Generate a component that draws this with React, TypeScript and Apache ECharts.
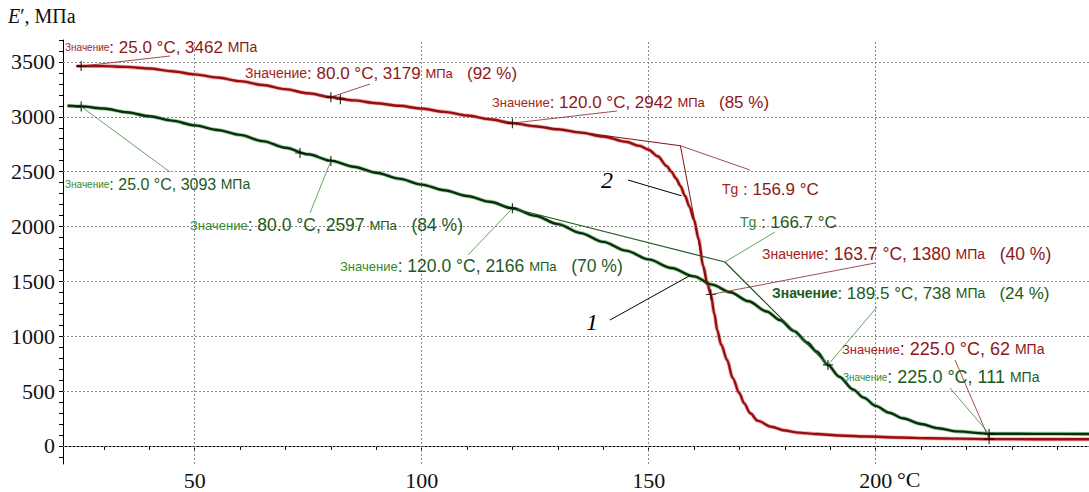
import React, { useEffect, useRef } from "react";
import * as echarts from "echarts";

// ---- Data ----
const redTemp = [24,30,35,40,45,50,55,60,65,70,75,80,85,90,95,100,105,110,115,120,125,130,135,140,145,148,150,152,154,155,156,157,158,159,160,161,162,163,163.7,164.5,165.1,166,167.3,168.5,170,171,172.4,174,177,180,183,187,192,198,205,212,218,225,235,247];
const redE = [3462,3462,3455,3440,3415,3387,3358,3325,3290,3252,3214,3179,3150,3124,3100,3075,3045,3012,2977,2942,2914,2886,2856,2820,2772,2735,2700,2640,2550,2500,2440,2370,2280,2180,2060,1890,1640,1470,1380,1200,1055,920,782,620,480,390,297,230,175,140,121,108,95,85,76,70,66,62,61,60];

const greenTemp = [22,25,30,35,40,45,50,55,60,65,70,75,80,85,90,95,100,105,110,115,120,125,130,135,140,145,150,155,160,164,168,172,176,179,182,185,187,189.5,192,195,197.4,200,203,206,210,213.8,218,225,235,247];
const greenE = [3100,3095,3075,3042,3005,2965,2922,2880,2835,2778,2718,2658,2600,2545,2490,2436,2382,2330,2278,2225,2166,2098,2022,1940,1860,1780,1700,1622,1545,1470,1400,1318,1225,1145,1048,940,860,738,630,515,440,365,302,252,200,161,132,111,110,109];

// annotated points: temperature, modulus, percent of initial
const redNoteT = [25, 80, 120, 163.7, 225];
const redNoteE = [3462, 3179, 2942, 1380, 62];
const redNotePct = [null, 92, 85, 40, null];
const greenNoteT = [25, 80, 120, 189.5, 225];
const greenNoteE = [3093, 2597, 2166, 738, 111];
const greenNotePct = [null, 84, 70, 24, null];

// extra cursor marks
const redExtraMark = [[82.1, 3160]];
const greenExtraMark = [[73.2, 2670]];

// Tg construction (tangent lines)
const redTangent = [[120, 2942], [157.0, 2736], [162.8, 1470]];
const greenTangent = [[120, 2166], [166.8, 1676], [189.5, 738]];
const redTg = 156.9;
const greenTg = 166.7;

// axis ticks / labels
const xLabels = [50, 100, 150, 200];
const xTicks = [30,40,50,60,70,80,90,100,110,120,130,140,150,160,170,180,190,200,210,220,230,240];
const yLabels = [0, 500, 1000, 1500, 2000, 2500, 3000, 3500];
const yTicks = [-100,0,100,200,300,400,500,600,700,800,900,1000,1100,1200,1300,1400,1500,1600,1700,1800,1900,2000,2100,2200,2300,2400,2500,2600,2700,2800,2900,3000,3100,3200,3300,3400,3500,3600,3700];

// ---- Layout (pixels) ----
// [textX, textY, leaderEndX, leaderEndY, smallSize, bigSize, unitSize]
const redNoteLayout = [
  [65, 47, 170, 56, 10, 17, 14],
  [245, 73, 370, 84, 14, 17, 13],
  [492, 102, 617, 111, 13, 17, 13],
  [762, 254, 875, 263, 14, 17.5, 14],
  [842, 349, 955, 360, 13, 18, 14],
];
const greenNoteLayout = [
  [65, 184, 170, 172, 10, 16, 14],
  [190, 225, 310, 213, 13, 17.5, 13],
  [340, 266, 468, 255, 13, 17.5, 13],
  [772, 293, 877, 307, 14, 17, 14],
  [843, 377, 950, 388, 10, 18, 14],
];

const RED_TXT = "#8e1717";
const RED_SMALL = "#a52222";
const GREEN_TXT = "#1d5a1d";
const GREEN_SMALL = "#2f8a2f";
const SANS = "Liberation Sans, Arial, sans-serif";
const SERIF = "Liberation Serif, Times New Roman, serif";

function zip(a: number[], b: number[]) {
  return a.map((v, i) => [v, b[i]]);
}

function noteRich(t: number, e: number, pct: number | null) {
  let s = `{s|Значение}{b|: ${t.toFixed(1)} °C, ${e} }{m|МПа}`;
  if (pct != null) s += `{b|   (${pct} %)}`;
  return s;
}

export default function App() {
  const ref = useRef<HTMLDivElement>(null);
  useEffect(() => {
    if (!ref.current) return;
    const chart = echarts.init(ref.current, undefined, { renderer: "svg" });
    const gridLines = [
      ...xLabels.map((v) => ({ xAxis: v })),
      ...yLabels.map((v) => ({ yAxis: v })),
    ];
    const markerSymbol = "path://M0,5H10M5,0V10";
    chart.setOption({
      animation: false,
      backgroundColor: "#ffffff",
      grid: { left: 63, right: 0, top: 40, bottom: 28 },
      xAxis: {
        type: "value",
        min: 21,
        max: 247,
        axisLine: { show: true, lineStyle: { color: "#000", width: 1 } },
        axisTick: { show: true, customValues: xTicks, length: 4, lineStyle: { color: "#000" } },
        axisLabel: {
          customValues: xLabels,
          formatter: (v: number) => String(v),
          fontFamily: SERIF,
          fontSize: 22,
          color: "#111",
          margin: 5,
        },
        splitLine: { show: false },
      },
      yAxis: {
        type: "value",
        min: -165,
        max: 3700,
        axisLine: { show: true, lineStyle: { color: "#000", width: 1 } },
        axisTick: { show: true, customValues: yTicks, length: 4, lineStyle: { color: "#000" } },
        axisLabel: {
          customValues: yLabels,
          formatter: (v: number) => String(v),
          fontFamily: SERIF,
          fontSize: 22,
          color: "#111",
          margin: 8,
        },
        splitLine: { show: false },
      },
      series: [
        {
          type: "line",
          data: zip(redTemp, redE),
          showSymbol: false,
          smooth: 0.3,
          smoothMonotone: "x",
          lineStyle: { color: "#d85050", width: 4, opacity: 0.45 },
          z: 2,
          markLine: {
            silent: true,
            symbol: "none",
            label: { show: false },
            lineStyle: { color: "#8c8c8c", width: 1, type: [2, 2] },
            data: gridLines,
            z: 1,
          },
        },
        {
          type: "line",
          data: zip(redTemp, redE),
          showSymbol: false,
          smooth: 0.3,
          smoothMonotone: "x",
          lineStyle: { color: "#990f0f", width: 2.4 },
          z: 3,
        },
        {
          type: "line",
          data: zip(greenTemp, greenE),
          showSymbol: false,
          smooth: 0.3,
          smoothMonotone: "x",
          lineStyle: { color: "#3aa83c", width: 4, opacity: 0.5 },
          z: 2,
        },
        {
          type: "line",
          data: zip(greenTemp, greenE),
          showSymbol: false,
          smooth: 0.3,
          smoothMonotone: "x",
          lineStyle: { color: "#0c2e0f", width: 2.4 },
          z: 3,
        },
        {
          type: "line",
          data: redTangent,
          showSymbol: false,
          lineStyle: { color: "#7a1515", width: 1 },
          z: 4,
        },
        {
          type: "line",
          data: greenTangent,
          showSymbol: false,
          lineStyle: { color: "#245a24", width: 1.2 },
          z: 4,
        },
        {
          type: "scatter",
          data: [...zip(redNoteT, redNoteE), ...redExtraMark, ...zip(greenNoteT, greenNoteE), ...greenExtraMark],
          symbol: markerSymbol,
          symbolSize: 10,
          itemStyle: { color: "none", borderColor: "#000", borderWidth: 1.2 },
          z: 5,
        },
      ],
    });

    const P = (x: number, y: number) => chart.convertToPixel({ gridIndex: 0 }, [x, y]) as number[];
    const graphics: any[] = [];

    // Axis title
    graphics.push({
      type: "text",
      left: 8,
      top: 6,
      style: {
        text: "{i|E}{r|′, МПа}",
        rich: {
          i: { fontFamily: SERIF, fontSize: 20, fontStyle: "italic", fill: "#111" },
          r: { fontFamily: SERIF, fontSize: 20, fill: "#111" },
        },
      },
    });
    // unit after x label 200
    graphics.push({
      type: "text",
      x: 897,
      y: 479,
      style: { text: "°C", font: `22px ${SERIF}`, fill: "#111", verticalAlign: "middle" },
    });

    // value notes
    const addNotes = (
      ts: number[], es: number[], pcts: (number | null)[], layout: number[][],
      txt: string, small: string, lineColor: string, boldIdx: number
    ) => {
      ts.forEach((t, i) => {
        const [tx, ty, lx, ly, s1, s2, s3] = layout[i];
        const p = P(t, es[i]);
        graphics.push({
          type: "line",
          shape: { x1: p[0], y1: p[1], x2: lx, y2: ly },
          style: { stroke: lineColor, lineWidth: 0.8 },
          z: 10,
        });
        const bold = i === boldIdx;
        graphics.push({
          type: "text",
          x: tx,
          y: ty,
          z: 11,
          style: {
            text: noteRich(t, es[i], pcts[i]),
            verticalAlign: "middle",
            rich: {
              s: { fontFamily: SANS, fontSize: s1, fill: bold ? txt : small, fontWeight: bold ? "bold" : "normal" },
              b: { fontFamily: SANS, fontSize: s2, fill: txt },
              m: { fontFamily: SANS, fontSize: s3, fill: txt },
            },
          },
        });
      });
    };
    addNotes(redNoteT, redNoteE, redNotePct, redNoteLayout, RED_TXT, RED_SMALL, "#8b2020", -1);
    addNotes(greenNoteT, greenNoteE, greenNotePct, greenNoteLayout, GREEN_TXT, GREEN_SMALL, "#3c8c3c", 3);

    // Tg labels
    const rk = P(redTangent[1][0], redTangent[1][1]);
    graphics.push({ type: "line", shape: { x1: rk[0], y1: rk[1], x2: 750, y2: 170 }, style: { stroke: "#8b2020", lineWidth: 0.8 }, z: 10 });
    graphics.push({
      type: "text", x: 722, y: 189, z: 11,
      style: {
        text: `{s|Tg}{b| : ${redTg.toFixed(1)} °C}`, verticalAlign: "middle",
        rich: { s: { fontFamily: SANS, fontSize: 14, fill: RED_SMALL }, b: { fontFamily: SANS, fontSize: 17, fill: RED_TXT } },
      },
    });
    const gk = P(greenTangent[1][0], greenTangent[1][1]);
    graphics.push({ type: "line", shape: { x1: gk[0], y1: gk[1], x2: 775, y2: 232 }, style: { stroke: "#3c8c3c", lineWidth: 0.8 }, z: 10 });
    graphics.push({
      type: "text", x: 740, y: 222, z: 11,
      style: {
        text: `{s|Tg}{b| : ${greenTg.toFixed(1)} °C}`, verticalAlign: "middle",
        rich: { s: { fontFamily: SANS, fontSize: 14, fill: GREEN_SMALL }, b: { fontFamily: SANS, fontSize: 17, fill: GREEN_TXT } },
      },
    });

    // curve numbers
    const c2 = P(157.2, 2280);
    graphics.push({ type: "line", shape: { x1: 628, y1: 180, x2: c2[0], y2: c2[1] }, style: { stroke: "#000", lineWidth: 1 }, z: 10 });
    graphics.push({
      type: "text", x: 607, y: 180, z: 11,
      style: { text: "2", font: `italic 24px ${SERIF}`, fill: "#000", align: "center", verticalAlign: "middle" },
    });
    const c1 = P(159.2, 1555);
    graphics.push({ type: "line", shape: { x1: 610, y1: 320, x2: c1[0], y2: c1[1] }, style: { stroke: "#000", lineWidth: 1 }, z: 10 });
    graphics.push({
      type: "text", x: 592, y: 322, z: 11,
      style: { text: "1", font: `italic 24px ${SERIF}`, fill: "#000", align: "center", verticalAlign: "middle" },
    });

    chart.setOption({ graphic: graphics });

    return () => chart.dispose();
  }, []);

  return (
    <div
      ref={ref}
      style={{ position: "fixed", left: 0, top: 0, width: 1089, height: 492, background: "#fff" }}
    />
  );
}
